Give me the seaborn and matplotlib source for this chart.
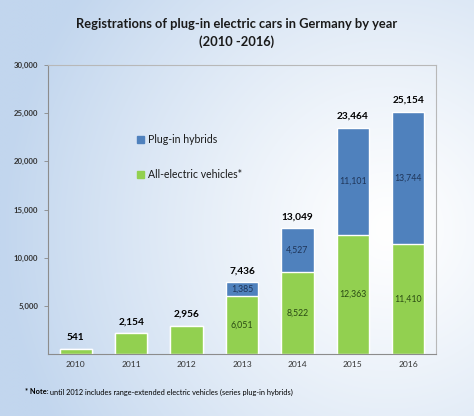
import numpy as np
import pandas as pd
import matplotlib
matplotlib.use("Agg")
from matplotlib import pyplot as plt
from matplotlib.patches import Patch
import seaborn as sns

# data
years = ["2010", "2011", "2012", "2013", "2014", "2015", "2016"]
all_electric = [541, 2154, 2956, 6051, 8522, 12363, 11410]
plugin_hybrid = [0, 0, 0, 1385, 4527, 11101, 13744]
totals = [a + p for a, p in zip(all_electric, plugin_hybrid)]
yticks = [5000, 10000, 15000, 20000, 25000, 30000]

GREEN = "#92d050"
BLUE = "#4f81bd"

sns.set_theme(style="white")
plt.rcParams["font.family"] = ["Lato", "DejaVu Sans"]

df = pd.DataFrame({"year": years, "electric": all_electric,
                   "hybrid": plugin_hybrid, "total": totals})

fig = plt.figure(figsize=(4.74, 4.16), dpi=100)

# background gradient (light blue on the left fading to white)
bg = fig.add_axes([0, 0, 1, 1], zorder=-10)
xx, yy = np.meshgrid(np.linspace(0, 1, 300), np.linspace(1, 0, 260))
f = np.clip(np.sqrt(((xx - 0.82) / 0.82) ** 2 + ((yy - 0.45) / 0.95) ** 2), 0, 1) ** 1.2
c_blue = np.array([194, 214, 238]) / 255.0
img = 1 - f[..., None] * (1 - c_blue)
bg.imshow(img, aspect="auto", extent=[0, 1, 0, 1])
bg.axis("off")

ax = fig.add_axes([48 / 474, 62 / 416, 388 / 474, 289 / 416])
ax.set_facecolor("none")

# stacked bars: totals in blue, all-electric drawn over them in green
sns.barplot(data=df, x="year", y="total", color=BLUE, width=0.58,
            saturation=1, ax=ax)
sns.barplot(data=df, x="year", y="electric", color=GREEN, width=0.58,
            saturation=1, ax=ax)

ax.set_xlim(-0.5, 6.5)
ax.set_ylim(0, 30000)
ax.set_yticks(yticks)
ax.set_yticklabels([f"{v:,}" for v in yticks], fontsize=5.6,
                   fontweight="bold", color="#333333")
ax.tick_params(axis="x", labelsize=6.1, colors="#333333", length=0, pad=5)
ax.tick_params(axis="y", length=3, width=0.6, color="#888888", left=True, pad=4)
ax.set_xlabel("")
ax.set_ylabel("")

for side in ["left", "bottom"]:
    ax.spines[side].set_color("#8c8c8c")
    ax.spines[side].set_linewidth(0.8)
for side in ["top", "right"]:
    ax.spines[side].set_visible(True)
    ax.spines[side].set_color("#b8b8b8")
    ax.spines[side].set_linewidth(0.8)

# value labels
for i, (e, h, t) in enumerate(zip(all_electric, plugin_hybrid, totals)):
    ax.annotate(f"{t:,}", (i, t), xytext=(0, 5), textcoords="offset points",
                ha="center", va="bottom", fontsize=7.3, fontweight="bold",
                color="black")
    if h > 0:
        ax.text(i, e / 2, f"{e:,}", ha="center", va="center",
                fontsize=6.3, color="#2a4a14")
        ax.text(i, e + h / 2, f"{h:,}", ha="center", va="center",
                fontsize=6.3, color="#1f3558")

handles = [Patch(color=BLUE, label="Plug-in hybrids"),
           Patch(color=GREEN, label="All-electric vehicles*")]
ax.legend(handles=handles, loc="upper left", bbox_to_anchor=(0.205, 0.795),
          frameon=False, fontsize=7.6, handlelength=0.65, handleheight=0.65,
          handletextpad=0.35, labelspacing=2.3, labelcolor="#1a1a1a")

fig.text(0.5, 1 - 24 / 416, "Registrations of plug-in electric cars in Germany by year",
         ha="center", va="center", fontsize=9.3, fontweight="bold", color="#1a1a1a")
fig.text(0.5, 1 - 42 / 416, "(2010 -2016)", ha="center", va="center",
         fontsize=9.3, fontweight="bold", color="#1a1a1a")

note = fig.text(25 / 474, 1 - 392 / 416, "* Note:", ha="left", va="center",
                fontsize=5.3, fontweight="bold", color="black")
ax.annotate(" until 2012 includes range-extended electric vehicles (series plug-in hybrids)",
            xy=(1, 0.5), xycoords=note, ha="left", va="center",
            fontsize=5.3, color="black", annotation_clip=False)

fig.savefig("out.png", dpi=100)
